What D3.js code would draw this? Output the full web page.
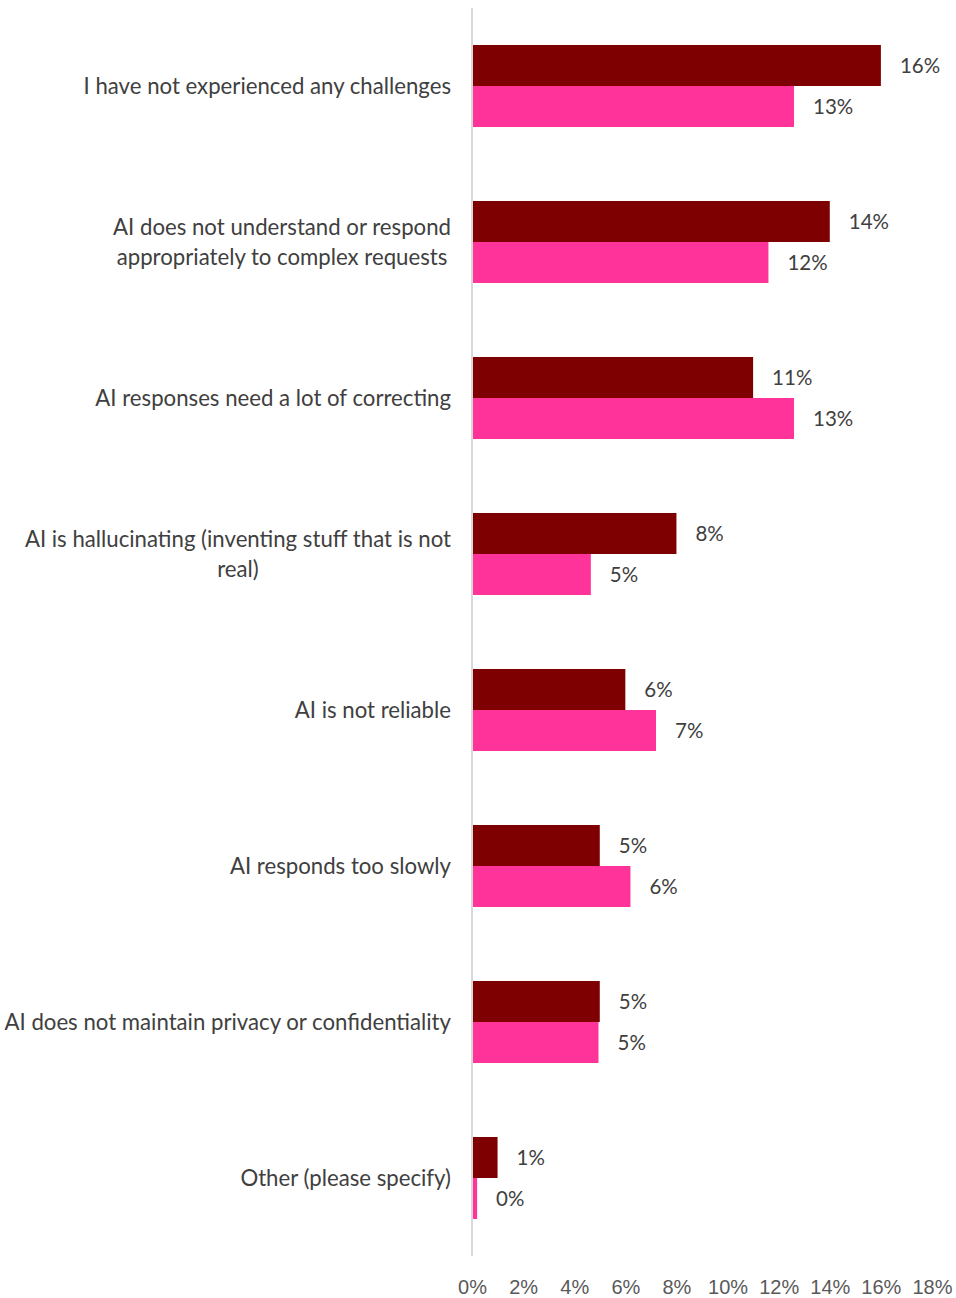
<!DOCTYPE html>
<html>
<head>
<meta charset="utf-8">
<script src="https://cdn.jsdelivr.net/npm/d3@7"></script>
<style>
  html, body { margin: 0; padding: 0; background: #ffffff; }
  svg { display: block; }
</style>
</head>
<body>
<svg id="chart" width="956" height="1298"></svg>
<script>
// Survey categories (top to bottom); multi-line labels split on "\n"
const categories = [
  "I have not experienced any challenges",
  "AI does not understand or respond\nappropriately to complex requests",
  "AI responses need a lot of correcting",
  "AI is hallucinating (inventing stuff that is not\nreal)",
  "AI is not reliable",
  "AI responds too slowly",
  "AI does not maintain privacy or confidentiality",
  "Other (please specify)"
];

// Share of respondents, in percent
const seriesA = [16.0, 14.0, 11.0, 8.0, 6.0, 5.0, 5.0, 1.0];
const seriesB = [12.6, 11.6, 12.6, 4.65, 7.2, 6.2, 4.95, 0.2];

const tickValues = [0, 2, 4, 6, 8, 10, 12, 14, 16, 18];

const colorA = "#7f0000";
const colorB = "#ff3399";

const svg = d3.select("#chart");

const x = d3.scaleLinear().domain([0, 18]).range([472, 932]);
const y = d3.scaleBand().domain(categories).range([8, 1256]).paddingInner(0).paddingOuter(0);
const barH = 41;

const rows = categories.map((c, i) => ({ cat: c, a: seriesA[i], b: seriesB[i] }));
const fmt = v => d3.format(".0f")(v) + "%";

const labelFont = "'Lato', 'Open Sans', sans-serif";

const g = svg.append("g");

// Bars
const row = g.selectAll("g.row").data(rows).join("g").attr("class", "row")
  .attr("transform", d => `translate(0,${y(d.cat) + y.bandwidth() / 2})`);

row.append("rect")
  .attr("x", x(0)).attr("y", -barH)
  .attr("width", d => x(d.a) - x(0)).attr("height", barH)
  .attr("fill", colorA);

row.append("rect")
  .attr("x", x(0)).attr("y", 0)
  .attr("width", d => x(d.b) - x(0)).attr("height", barH)
  .attr("fill", colorB);

// Value labels
row.append("text")
  .attr("x", d => x(d.a) + 19).attr("y", -barH / 2)
  .attr("dy", "0.35em")
  .attr("font-family", labelFont).attr("font-size", 20.5)
  .attr("fill", "#404040")
  .text(d => fmt(d.a));

row.append("text")
  .attr("x", d => x(d.b) + 19).attr("y", barH / 2)
  .attr("dy", "0.35em")
  .attr("font-family", labelFont).attr("font-size", 20.5)
  .attr("fill", "#404040")
  .text(d => fmt(d.b));

// Category labels: block right-aligned, lines centred within the block
row.each(function(d) {
  const lines = d.cat.split("\n");
  const t = d3.select(this).append("text")
    .attr("font-family", labelFont).attr("font-size", 22.2)
    .attr("fill", "#404040");
  const lineH = 30;
  const y0 = -((lines.length - 1) * lineH) / 2;
  lines.forEach((ln, i) => {
    t.append("tspan").attr("x", 0).attr("y", y0 + i * lineH).attr("dy", "0.35em").text(ln);
  });
  // measure widest line, then centre lines inside a right-aligned block
  const widths = [];
  t.selectAll("tspan").each(function() { widths.push(this.getComputedTextLength()); });
  const w = d3.max(widths);
  const right = 451;
  t.selectAll("tspan").attr("text-anchor", "middle").attr("x", right - w / 2);
});

// Vertical axis line
g.append("line")
  .attr("x1", x(0)).attr("x2", x(0))
  .attr("y1", 8).attr("y2", 1256)
  .attr("stroke", "#d9d9d9").attr("stroke-width", 2);

// Bottom tick labels
const axis = d3.axisBottom(x).tickValues(tickValues).tickSize(0).tickFormat(d => d + "%");
const ax = svg.append("g").attr("transform", "translate(0,1277)").call(axis);
ax.select(".domain").remove();
ax.selectAll("text")
  .attr("font-family", "'Liberation Sans', Arial, sans-serif")
  .attr("font-size", 20)
  .attr("fill", "#595959");
</script>
</body>
</html>
